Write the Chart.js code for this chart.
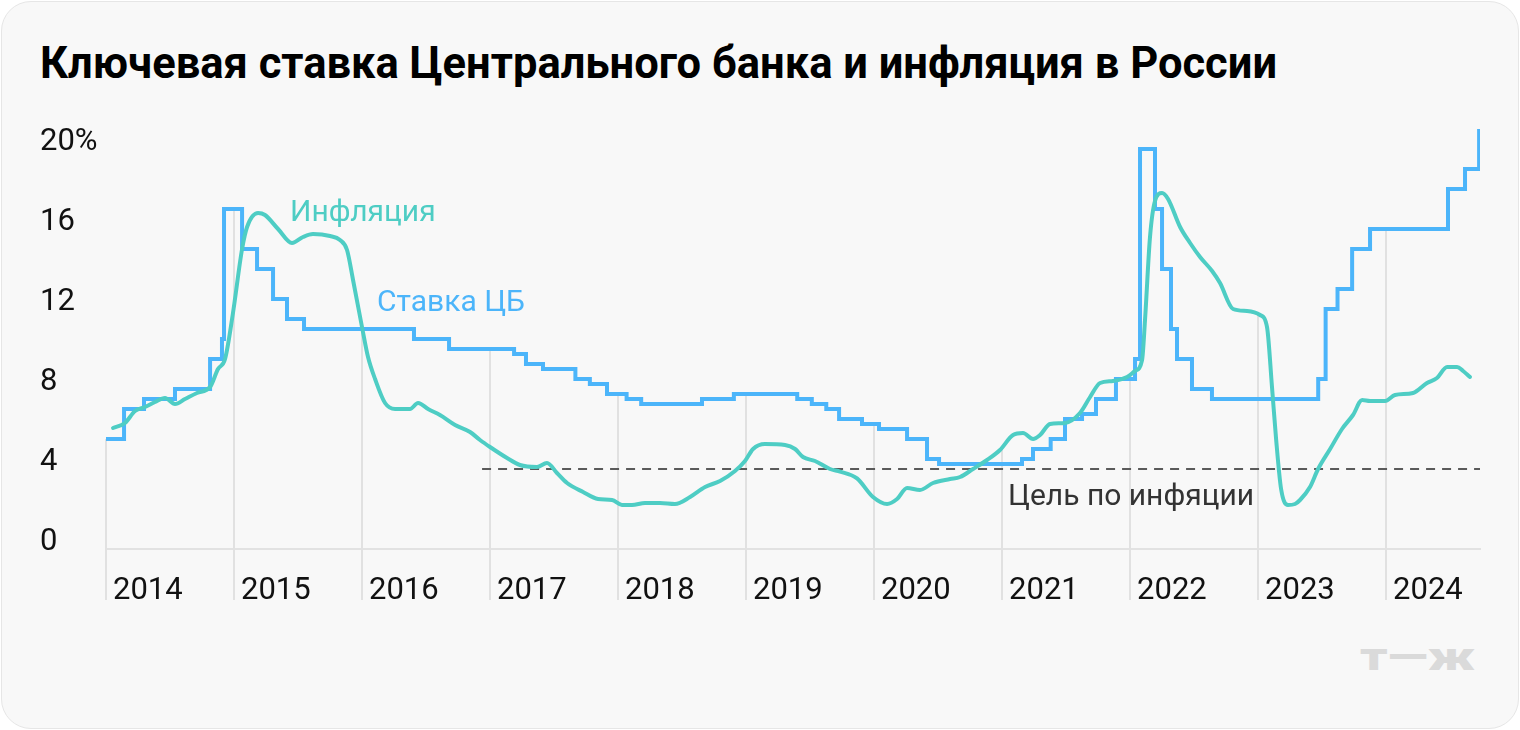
<!DOCTYPE html>
<html>
<head>
<meta charset="utf-8">
<script src="https://cdn.jsdelivr.net/npm/chart.js@4.4.1/dist/chart.umd.min.js"></script>
<style>
html, body { margin: 0; padding: 0; background: #fff; }
body { width: 1520px; height: 730px; position: relative; overflow: hidden; font-family: Roboto, "Noto Sans", sans-serif; }
.card { position: absolute; left: 1px; top: 1px; width: 1516px; height: 726px; border: 1px solid #e6e6e6; border-radius: 30px; background: #f8f8f8; }
.title { position: absolute; left: 40px; top: 42px; font-size: 43.5px; font-weight: 700; line-height: 1; color: #000; white-space: nowrap; }
.lbl { position: absolute; font-size: 30px; line-height: 1; white-space: nowrap; }
.logo { position: absolute; left: 1360px; top: 638px; font-size: 38px; font-weight: 900; line-height: 1; color: #dadada; transform: scaleX(1.39); transform-origin: left top; white-space: nowrap; }
#wrap { position: absolute; left: 0; top: 100px; width: 1520px; height: 520px; }
</style>
</head>
<body>
<div class="card"></div>
<div class="title">Ключевая ставка Центрального банка и инфляция в России</div>
<div id="wrap"><canvas id="chart"></canvas></div>
<div class="lbl" style="left:290px; top:196px; color:#4ecdc4;">Инфляция</div>
<div class="lbl" style="left:377px; top:286px; color:#4cb5fa;">Ставка ЦБ</div>
<div class="lbl" style="left:1008px; top:480px; color:#333;">Цель по инфяции</div>
<div class="logo">т—ж</div>
<script>
// ключевая ставка: год (дробный) смены и новое значение
const rateYears = [2014.000, 2014.141, 2014.297, 2014.539, 2014.813, 2014.906, 2014.922, 2015.063, 2015.180, 2015.305,
  2015.414, 2015.547, 2016.406, 2016.680, 2017.188, 2017.281, 2017.414, 2017.667, 2017.780, 2017.914,
  2018.067, 2018.181, 2018.656, 2018.905, 2019.400, 2019.514, 2019.627, 2019.727, 2019.906, 2020.039,
  2020.258, 2020.414, 2020.508, 2021.156, 2021.242, 2021.380, 2021.492, 2021.625, 2021.734, 2021.890,
  2022.039, 2022.078, 2022.195, 2022.250, 2022.320, 2022.367, 2022.484, 2022.640, 2023.470, 2023.528,
  2023.621, 2023.735, 2023.875, 2024.484, 2024.617, 2024.727, 2024.734];
const rateValues = [5.5, 7, 7.5, 8, 9.5, 10.5, 17, 15, 14, 12.5,
  11.5, 11, 10.5, 10, 9.75, 9.25, 9, 8.5, 8.25, 7.75,
  7.5, 7.25, 7.5, 7.75, 7.5, 7.25, 7, 6.5, 6.25, 6,
  5.5, 4.5, 4.25, 4.5, 5, 5.5, 6.5, 6.75, 7.5, 8.5,
  9.5, 20, 17, 14, 11, 9.5, 8, 7.5, 8.5, 12,
  13, 15, 16, 18, 19, 21, 21];

// инфляция, % г/г
const inflYears = [2014.055, 2014.148, 2014.227, 2014.305, 2014.383, 2014.461, 2014.539, 2014.617, 2014.711, 2014.813,
  2014.875, 2014.930, 2014.992, 2015.063, 2015.102, 2015.188, 2015.242, 2015.344, 2015.453, 2015.539,
  2015.617, 2015.750, 2015.828, 2015.883, 2015.930, 2016.000, 2016.047, 2016.102, 2016.180, 2016.258,
  2016.375, 2016.438, 2016.516, 2016.609, 2016.727, 2016.844, 2016.922, 2017.000, 2017.133, 2017.234,
  2017.367, 2017.445, 2017.523, 2017.602, 2017.727, 2017.844, 2017.953, 2018.031, 2018.109, 2018.211,
  2018.328, 2018.445, 2018.563, 2018.680, 2018.797, 2018.914, 2018.992, 2019.055, 2019.148, 2019.305,
  2019.383, 2019.445, 2019.539, 2019.656, 2019.734, 2019.867, 2019.992, 2020.102, 2020.180, 2020.258,
  2020.359, 2020.461, 2020.594, 2020.672, 2020.773, 2020.883, 2020.984, 2021.086, 2021.164, 2021.242,
  2021.297, 2021.375, 2021.492, 2021.609, 2021.688, 2021.766, 2021.867, 2021.977, 2022.039, 2022.094,
  2022.117, 2022.156, 2022.195, 2022.250, 2022.297, 2022.391, 2022.469, 2022.547, 2022.641, 2022.703,
  2022.805, 2022.914, 2023.016, 2023.070, 2023.109, 2023.141, 2023.180, 2023.234, 2023.289, 2023.328,
  2023.406, 2023.469, 2023.563, 2023.656, 2023.742, 2023.813, 2023.875, 2023.992, 2024.070, 2024.211,
  2024.320, 2024.398, 2024.477, 2024.555, 2024.602, 2024.656];
const inflValues = [6.05, 6.3, 6.9, 7.1, 7.35, 7.55, 7.25, 7.5, 7.8, 8.1,
  9.0, 9.5, 11.8, 15.0, 16.1, 16.8, 16.7, 16.0, 15.3, 15.6,
  15.75, 15.65, 15.45, 14.95, 13.45, 11.1, 9.6, 8.5, 7.3, 7.0,
  7.0, 7.3, 7.0, 6.7, 6.2, 5.85, 5.45, 5.1, 4.55, 4.2,
  4.1, 4.3, 3.8, 3.3, 2.85, 2.5, 2.45, 2.2, 2.2, 2.3,
  2.3, 2.25, 2.6, 3.1, 3.4, 3.9, 4.4, 5.0, 5.25, 5.2,
  5.0, 4.6, 4.4, 4.0, 3.87, 3.53, 2.6, 2.25, 2.5, 3.05,
  2.95, 3.3, 3.5, 3.6, 4.0, 4.45, 4.95, 5.7, 5.8, 5.5,
  5.7, 6.25, 6.3, 6.8, 7.6, 8.3, 8.4, 8.6, 8.9, 9.45,
  11.45, 15.6, 17.4, 17.8, 17.5, 16.1, 15.3, 14.6, 13.9, 13.3,
  12.0, 11.9, 11.7, 11.1, 8.1, 5.5, 3.0, 2.2, 2.25, 2.45,
  3.1, 4.0, 5.0, 6.0, 6.7, 7.45, 7.4, 7.4, 7.7, 7.8,
  8.3, 8.55, 9.1, 9.1, 8.9, 8.6];

// цель по инфляции
const targetYears = [2016.938, 2024.734];
const targetValues = [4, 4];

const yearTicks = [2014, 2015, 2016, 2017, 2018, 2019, 2020, 2021, 2022, 2023, 2024];
const valueTicks = [0, 4, 8, 12, 16, 20];

const toPoints = (xs, ys) => xs.map((x, i) => ({ x: x, y: ys[i] }));

function rateAt(yr) {
  let v = -Infinity;
  rateYears.forEach((x, i) => { if (x <= yr) v = rateValues[i]; });
  return v;
}
function inflAt(yr) {
  if (yr < inflYears[0] || yr > inflYears[inflYears.length - 1]) return -Infinity;
  for (let i = 1; i < inflYears.length; i++) {
    if (inflYears[i] >= yr) {
      const t = (yr - inflYears[i - 1]) / (inflYears[i] - inflYears[i - 1]);
      return inflValues[i - 1] + t * (inflValues[i] - inflValues[i - 1]);
    }
  }
  return -Infinity;
}

// вертикальные линии лет: от линии графика вниз до подписи
const yearLines = {
  id: 'yearLines',
  beforeDatasetsDraw(chart) {
    const { ctx, chartArea, scales: { x, y } } = chart;
    ctx.save();
    ctx.strokeStyle = '#e1e1e1';
    ctx.lineWidth = 2;
    yearTicks.forEach(yr => {
      const top = Math.max(rateAt(yr), inflAt(yr));
      const px = Math.round(x.getPixelForValue(yr));
      ctx.beginPath();
      ctx.moveTo(px, y.getPixelForValue(top));
      ctx.lineTo(px, chartArea.bottom + 51);
      ctx.stroke();
    });
    ctx.restore();
  }
};

const tickFont = { family: 'Roboto, "Noto Sans", sans-serif', size: 31 };

new Chart(document.getElementById('chart'), {
  type: 'line',
  data: {
    datasets: [{
      label: 'Инфляция',
      data: toPoints(inflYears, inflValues),
      borderColor: '#4ecdc4',
      borderWidth: 4,
      pointRadius: 0,
      cubicInterpolationMode: 'monotone',
      borderCapStyle: 'round',
      order: 0
    }, {
      label: 'Ставка ЦБ',
      data: toPoints(rateYears, rateValues),
      borderColor: '#4cb5fa',
      borderWidth: 4,
      pointRadius: 0,
      stepped: 'before',
      borderJoinStyle: 'miter',
      order: 1
    }, {
      label: 'Цель по инфляции',
      data: toPoints(targetYears, targetValues),
      borderColor: '#5a5a5a',
      borderWidth: 2,
      borderDash: [9, 7],
      pointRadius: 0,
      order: 2
    }]
  },
  options: {
    responsive: true,
    maintainAspectRatio: false,
    animation: false,
    layout: { padding: { left: 40, right: 40, top: 29, bottom: 0 } },
    plugins: { legend: { display: false }, tooltip: { enabled: false } },
    scales: {
      x: {
        type: 'linear',
        min: 2014,
        max: 2024.734,
        afterBuildTicks: s => { s.ticks = yearTicks.map(v => ({ value: v })); },
        afterFit: s => { s.height = 71; },
        grid: { display: false, drawTicks: false },
        border: { display: true, color: '#e2e2e2', width: 2 },
        ticks: {
          callback: v => String(v),
          align: 'start',
          labelOffset: 7,
          padding: 24,
          maxRotation: 0,
          autoSkip: false,
          color: '#111',
          font: tickFont
        }
      },
      y: {
        min: 0,
        max: 21,
        afterBuildTicks: s => { s.ticks = valueTicks.map(v => ({ value: v })); },
        afterFit: s => { s.width = 66; },
        grid: { display: false, drawTicks: false },
        border: { display: false },
        ticks: {
          callback: v => (v === 20 ? '20%' : String(v)),
          crossAlign: 'far',
          labelOffset: -7,
          color: '#111',
          font: tickFont
        }
      }
    }
  },
  plugins: [yearLines]
});
</script>
</body>
</html>
